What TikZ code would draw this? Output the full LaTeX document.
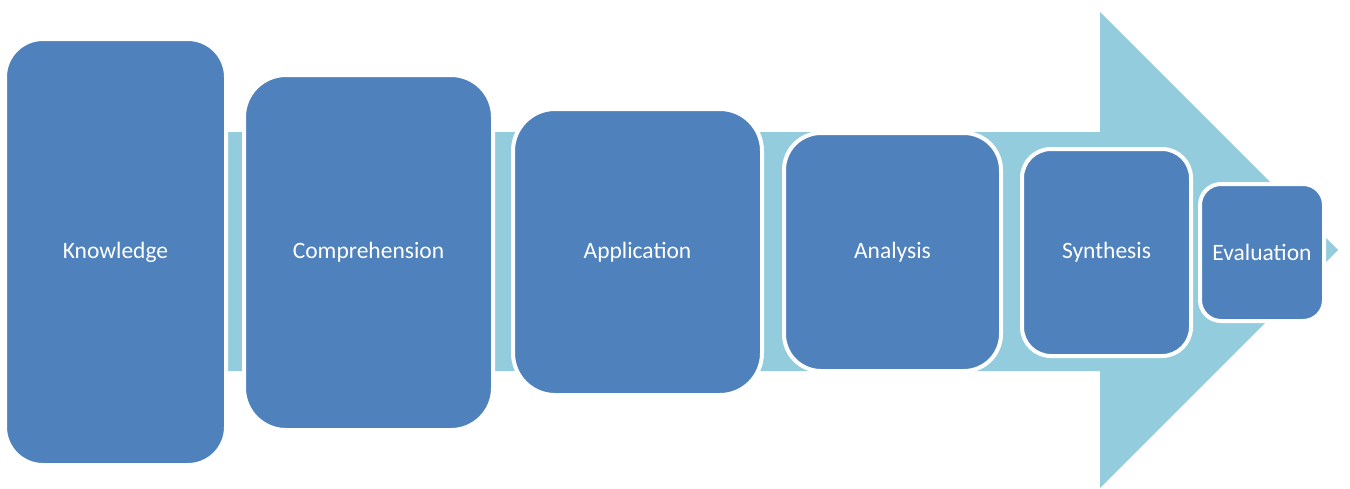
\documentclass[tikz,border=0pt]{standalone}
\usepackage{fontspec}
\setmainfont{Carlito}
\usetikzlibrary{positioning}
\definecolor{boxblue}{HTML}{4F81BD}
\definecolor{arrowblue}{HTML}{93CDDD}

\begin{document}
\begin{tikzpicture}[x=1pt, y=-1pt,
stage/.style ={ rectangle, rounded corners=#1, fill=boxblue,
draw=white, line width=4pt, text=white, inner sep=0pt,
font=\fontsize{23.5}{28}\selectfont}]

\useasboundingbox (0,0) rectangle (1350,488);

\fill[arrowblue] (10,132) -- (1100,132) -- (1100,12) -- (1338,250)
  -- (1100,488) -- (1100,371) -- (10,371) -- cycle;

\node[stage=38pt, minimum width=221pt, minimum height=426pt] (1) at (115.5,252) {Knowledge};
\node[stage=42pt, minimum width=249pt, minimum height=355pt] (2) at (368.5,252.5) {Comprehension};
\node[stage=42pt, minimum width=249pt, minimum height=286pt] (3) at (637.5,252) {Application};
\node[stage=37pt, minimum width=217pt, minimum height=238pt] (4) at (892.5,252) {Analysis};
\node[stage=29pt, minimum width=169pt, minimum height=207pt] (5) at (1106.5,252.5) {Synthesis};
\node[stage=21pt, minimum width=124pt, minimum height=137pt] (6) at (1262,252.5) {Evaluation};
\end{tikzpicture}
\end{document}
